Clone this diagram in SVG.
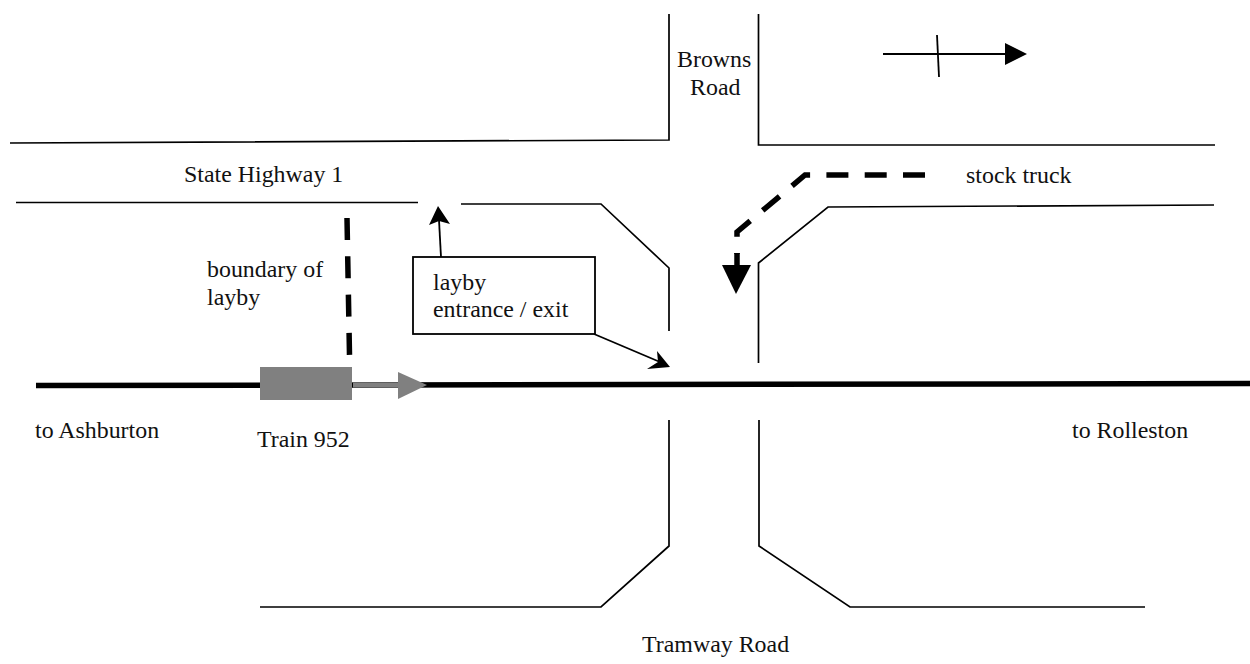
<svg xmlns="http://www.w3.org/2000/svg" width="1250" height="664" viewBox="0 0 1250 664">
<style>
text{font-family:"Liberation Serif","Times New Roman",serif;font-size:23.9px;fill:#111}
.r{fill:none;stroke:#000;stroke-width:1.7}
.a{fill:none;stroke:#000;stroke-width:1.8}
.d{fill:none;stroke:#000;stroke-width:5.5;stroke-dasharray:22 16.3}
</style>
<rect width="1250" height="664" fill="#fff"/>
<g id="roads">
<path class="r" d="M10 143L669 140V14"/>
<path class="r" d="M758.500 14V145H1215"/>
<path class="r" d="M16 202.500H418"/>
<path class="r" d="M461 204H601L669 268V331"/>
<path class="r" d="M1214 205L828 207L758.500 263V363"/>
<path class="r" d="M669 420V546L601 607H260"/>
<path class="r" d="M759 420V546L850 607H1145"/>
</g>
<g id="connectors">
<path d="M36 385.500L1250 383.500" fill="none" stroke="#000" stroke-width="5.500"/>
<path class="d" d="M347 218L349.500 355"/>
<path class="d" d="M925 175H805L737 232V254"/>
<path d="M737 253V270" fill="none" stroke="#000" stroke-width="5.500"/>
<path d="M722 265H751L736 294Z"/>
<path class="a" d="M441 257L439 220"/>
<path d="M438 206L450 224L439 221L429 225Z"/>
<path class="a" d="M594 334L660 362"/>
<path d="M670 367L647 369L658 362L657 351Z"/>
<path class="a" d="M883 54H1006"/>
<path d="M1005 43L1027 54L1005 65Z"/>
<path class="a" d="M937 35L939 77"/>
<path d="M353 385H400" fill="none" stroke="#808080" stroke-width="5"/>
<path d="M398 372L427 385L398 399Z" fill="#808080"/>
</g>
<g id="train"><rect x="260" y="367" width="92" height="33" fill="#808080"/><text x="257" y="447">Train 952</text></g>
<g id="layby-box"><rect x="413" y="257" width="182" height="77" fill="#fff" stroke="#000" stroke-width="1.8"/><text x="433" y="290">layby</text><text x="433" y="317">entrance / exit</text></g>
<g id="labels">
<text x="184" y="182">State Highway 1</text>
<text x="207" y="277">boundary of</text>
<text x="207" y="305">layby</text>
<text x="677" y="67">Browns</text>
<text x="690" y="95">Road</text>
<text x="966" y="183">stock truck</text>
<text x="35" y="438">to Ashburton</text>
<text x="1072" y="438">to Rolleston</text>
<text x="642" y="652">Tramway Road</text>
</g>
</svg>
